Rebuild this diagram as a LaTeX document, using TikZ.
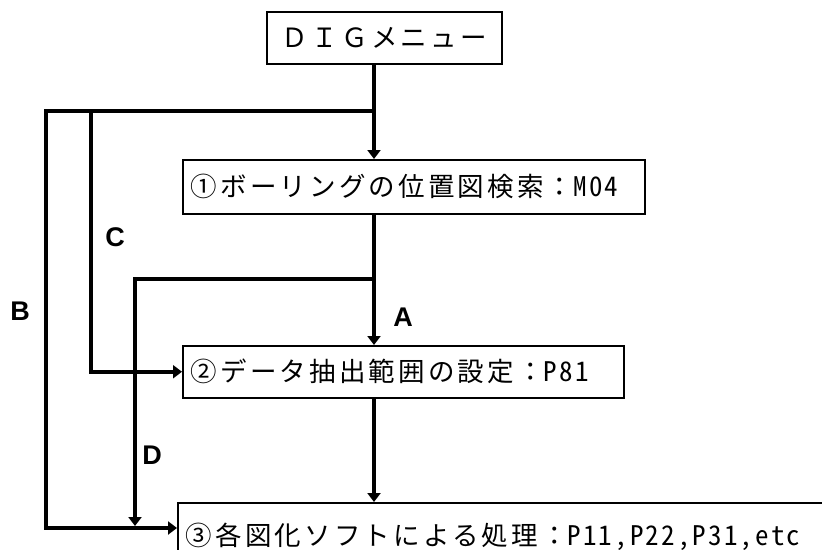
\documentclass[tikz,border=0pt]{standalone}
\usepackage{fontspec}
\setsansfont{Liberation Sans}
\newfontfamily\jp[LetterSpace=12]{Noto Sans CJK JP}
\newfontfamily\jplat[LetterSpace=8,RawFeature=+hwid]{Noto Sans CJK JP}
\usetikzlibrary{arrows.meta}
\tikzset{
  box/.style={draw, line width=1.5pt, rectangle, anchor=north west,
    inner xsep=8pt, inner ysep=0pt, align=left,
    font=\jp\fontsize{26.5}{30}\selectfont},
  flow/.style={line width=4pt, -{Triangle[length=9pt,width=13pt]}},
  lbl/.style={font=\sffamily\bfseries\fontsize{27}{27}\selectfont, inner sep=0pt},
}
\newcommand{\lat}[1]{{\jplat\fontsize{27}{30}\selectfont #1}}
\begin{document}
\begin{tikzpicture}[x=1pt,y=-1pt]
\useasboundingbox (0,0) rectangle (822,549);
\fill[white] (0,0) rectangle (822,549);
% boxes
\node[box, align=center, text width=219pt, minimum height=52pt] (box0) at (266,11) {ＤＩＧメニュー};
\node[box, text width=446pt, minimum height=54pt] (box1) at (182,159) {①ボーリングの位置図検索：\lat{M04}};
\node[box, text width=425pt, minimum height=52pt] (box2) at (182,345) {②データ抽出範囲の設定：\lat{P81}};
\node[box, text width=664pt, minimum height=68pt] (box3) at (177,502) {③各図化ソフトによる処理：\lat{P11,P22,P31,etc}};
% junctions
\coordinate (j1) at (374,111);
\coordinate (j2) at (374,279);
\coordinate (bT) at (46,111);
\coordinate (bB) at (46,528);
\coordinate (cT) at (91,111);
\coordinate (dT) at (135,279);
\coordinate (dB) at (135,526);
% connectors
\draw[flow] (j1 |- box0.south) -- (j1 |- box1.north);
\draw[flow] (j1) -- (bT) -- (bB) -- (bB -| box3.west);
\draw[flow] (cT) -- (cT |- box2.west) -- (box2.west);
\draw[flow] (j1 |- box1.south) -- (j1 |- box2.north);
\draw[flow] (j2) -- (dT) -- (dB);
\draw[flow] (j1 |- box2.south) -- (j1 |- box3.north);
% labels
\node[lbl] (lA) at (403,317) {A};
\node[lbl] (lB) at (20,311) {B};
\node[lbl] (lC) at (115,237) {C};
\node[lbl] (lD) at (152,455) {D};
\end{tikzpicture}
\end{document}
